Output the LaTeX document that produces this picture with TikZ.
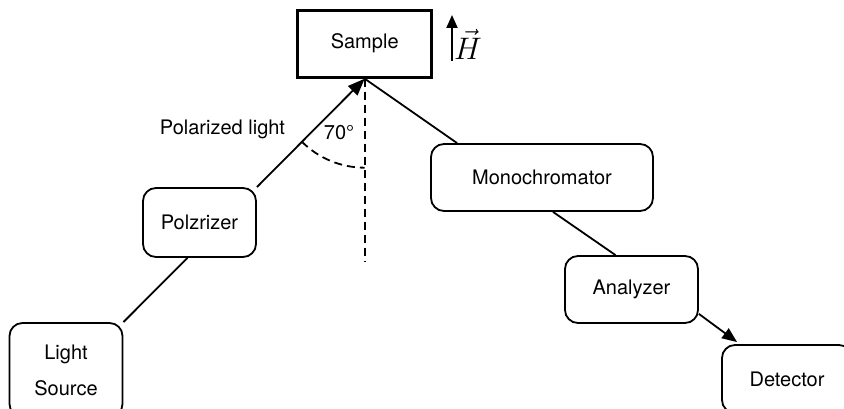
\documentclass[tikz,border=0pt]{standalone}
\usepackage{graphicx}
\usepackage{fontspec}
\setmainfont{TeX Gyre Heros}
\usetikzlibrary{arrows.meta}
\tikzset{
  every node/.style={font=\fontsize{20}{24}\selectfont},
  rbox/.style={draw, line width=1.8pt, rounded corners=13pt, inner sep=0pt, align=center},
  conn/.style={line width=1.8pt},
  head/.style={-{Triangle[length=17pt,width=13pt]}},
}
\begin{document}
\begin{tikzpicture}[x=1pt,y=1pt]
\useasboundingbox (0,0) rectangle (844,409);
% nodes
\node[draw, line width=3pt, minimum width=134pt, minimum height=67pt, inner sep=0pt] (sample) at (364.7,365.3) {Sample};
\node[rbox, minimum width=113pt, minimum height=69pt] (polz) at (199.5,186.5) {Polzrizer};
\node[rbox, minimum width=113pt, minimum height=94pt, font=\fontsize{20}{36}\selectfont] (light) at (66,39) {Light\\Source};
\node[rbox, minimum width=222pt, minimum height=67pt] (mono) at (542,231.5) {Monochromator};
\node[rbox, minimum width=133pt, minimum height=67pt] (ana) at (631.5,119.5) {Analyzer};
\node[rbox, minimum width=130pt, minimum height=68pt] (det) at (787,30) {Detector};
\node (pl) at (222.5,280) {Polarized light};
\node (ang) at (339,276) {70\textdegree};
\node[font=\fontsize{24}{28}\selectfont, inner sep=0pt] (hlab) at (468,365) {\scalebox{1.25}{$\vec{H}$}};
\coordinate (hbot) at (452,348);
\coordinate (htop) at (452,394);
\coordinate (dashend) at (364.7,147);
% connectors
\draw[conn, -{Triangle[length=13pt,width=11pt]}] (hbot) -- (htop);
\draw[conn, head] (polz.north east) -- (sample.south);
\draw[conn] ([xshift=-12pt]polz.south) -- (light.north east);
\draw[conn] (sample.south) -- ([xshift=27pt]mono.north west);
\draw[conn] ([xshift=11pt]mono.south) -- ([xshift=-16pt]ana.north);
\draw[conn, -{Triangle[length=15pt,width=12pt]}] ([yshift=10pt]ana.south east) -- ([xshift=16pt,yshift=2pt]det.north west);
\draw[conn, dash pattern=on 8pt off 5pt] (sample.south) -- (dashend);
\draw[conn, dash pattern=on 8pt off 5pt] (sample.south) ++(225:89) arc[start angle=225, end angle=270, radius=89];
\end{tikzpicture}
\end{document}
